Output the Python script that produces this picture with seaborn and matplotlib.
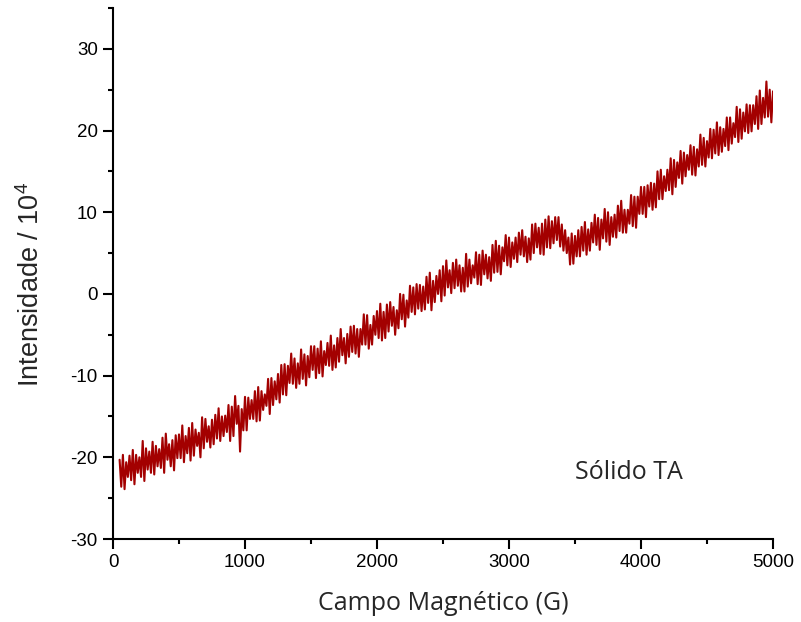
import numpy as np
import pandas as pd
import matplotlib
matplotlib.use("Agg")
import matplotlib.pyplot as plt
from matplotlib.ticker import MultipleLocator
import seaborn as sns

# --- datos leidos del espectro (intensidad / 10^4) ---
# borde superior del ruido: 50, 75, 100 ... 5000 G
campo_a = np.arange(50, 5001, 25)
intensidad_a = [
    -20.3, -19.7, -20.6, -19.8, -19.1, -19.7, -20.0, -18.0, -18.9, -19.3,
    -18.1, -18.6, -19.0, -17.6, -17.1, -18.4, -17.9, -17.3, -17.2, -16.1,
    -17.4, -16.4, -15.8, -16.6, -17.0, -15.1, -15.3, -16.2, -15.4, -14.8,
    -14.0, -15.0, -14.9, -13.6, -13.8, -12.5, -13.7, -14.1, -12.6, -12.7,
    -13.0, -11.9, -11.4, -11.9, -12.3, -10.4, -10.3, -10.7, -9.8, -8.7,
    -8.6, -8.8, -7.3, -7.9, -8.5, -6.8, -7.4, -7.6, -6.4, -6.4,
    -6.7, -5.8, -7.0, -6.0, -5.1, -6.3, -5.4, -4.3, -5.4, -4.9,
    -4.0, -3.9, -4.3, -4.3, -2.5, -2.6, -3.8, -2.7, -2.1, -1.2,
    -2.2, -1.3, -1.0, -1.6, -2.0, 0.0, -0.1, -0.8, 1.0, 0.8,
    1.2, 1.1, 0.9, 2.1, 2.6, 1.6, 2.2, 2.9, 3.4, 4.1,
    2.9, 3.8, 4.2, 3.5, 3.2, 4.9, 4.2, 3.5, 5.1, 4.8,
    5.3, 4.8, 4.5, 6.0, 6.5, 5.9, 5.7, 7.2, 6.9, 6.3,
    6.9, 7.5, 7.8, 7.0, 6.8, 8.5, 8.6, 8.1, 8.6, 9.1,
    9.5, 8.9, 9.4, 9.4, 8.5, 7.8, 6.9, 7.4, 7.1, 7.8,
    8.2, 8.8, 7.9, 8.7, 9.7, 9.3, 9.1, 10.4, 10.0, 9.4,
    9.7, 10.8, 11.4, 10.3, 10.3, 12.1, 11.9, 11.9, 13.1, 13.1,
    13.3, 13.6, 13.5, 15.0, 15.2, 14.4, 15.2, 16.6, 16.4, 16.1,
    17.5, 17.3, 17.0, 18.2, 18.0, 17.7, 19.5, 19.1, 18.7, 20.2,
    20.1, 21.0, 20.4, 20.2, 21.6, 21.6, 20.9, 22.9, 22.6, 22.2,
    23.2, 23.1, 23.1, 24.2, 24.9, 24.0, 26.0, 25.0, 24.8,
]

# borde inferior del ruido: 62.5, 87.5 ... 4987.5 G
campo_b = np.arange(62.5, 5000, 25)
intensidad_b = [
    -23.6, -23.9, -22.4, -22.8, -23.3, -21.9, -22.4, -22.9, -21.5, -21.9,
    -22.1, -21.1, -21.3, -21.9, -20.3, -21.1, -21.6, -20.1, -20.1, -20.6,
    -19.5, -20.4, -19.8, -18.6, -20.0, -18.9, -18.1, -18.8, -18.4, -17.7,
    -18.0, -17.4, -16.9, -18.0, -17.4, -15.9, -19.3, -16.7, -16.7, -15.3,
    -15.3, -15.6, -15.5, -14.2, -13.7, -14.7, -13.6, -12.9, -13.3, -12.3,
    -12.4, -10.9, -11.0, -11.5, -11.0, -10.4, -11.2, -10.2, -9.3, -10.3,
    -9.7, -10.1, -8.7, -8.8, -9.3, -9.0, -8.3, -7.5, -8.5, -7.7,
    -7.1, -7.3, -7.7, -6.2, -6.2, -6.7, -6.2, -5.0, -5.4, -5.7,
    -5.4, -4.6, -3.9, -5.0, -4.2, -3.1, -4.0, -2.9, -2.2, -2.5,
    -1.8, -2.1, -1.9, -1.1, -2.0, -1.0, 0.0, -0.9, -0.2, 0.8,
    0.1, 0.7, 1.0, 0.3, 0.3, 0.9, 1.3, 2.0, 1.2, 1.1,
    2.4, 1.9, 1.6, 2.6, 2.7, 2.4, 4.0, 3.5, 3.3, 4.3,
    3.9, 4.8, 4.6, 3.9, 4.2, 5.0, 5.7, 4.9, 4.8, 5.7,
    5.6, 6.2, 6.6, 5.8, 5.3, 5.0, 3.6, 3.7, 4.6, 4.6,
    5.3, 4.8, 5.3, 6.3, 6.0, 5.4, 6.8, 6.4, 6.0, 7.0,
    6.9, 7.7, 7.5, 7.5, 8.6, 8.3, 8.1, 9.8, 9.8, 9.4,
    10.7, 10.3, 10.6, 11.6, 11.6, 12.6, 12.7, 12.2, 13.1, 14.2,
    13.5, 14.4, 15.2, 14.6, 14.5, 15.6, 15.8, 15.6, 16.7, 16.6,
    17.2, 17.0, 17.4, 18.1, 17.6, 18.4, 19.2, 18.6, 19.0, 19.9,
    19.7, 19.9, 20.8, 20.2, 20.8, 21.6, 21.7, 21.0,
]

df = pd.concat([
    pd.DataFrame({"campo": campo_a, "intensidad": intensidad_a}),
    pd.DataFrame({"campo": campo_b, "intensidad": intensidad_b}),
]).sort_values("campo")

sns.set_style("ticks")
plt.rcParams["font.family"] = ["Liberation Sans", "DejaVu Sans"]
plt.rcParams["axes.unicode_minus"] = False
plt.rcParams["mathtext.fontset"] = "custom"
plt.rcParams["mathtext.rm"] = "Liberation Sans"
plt.rcParams["mathtext.it"] = "Liberation Sans"
plt.rcParams["mathtext.default"] = "regular"

fig = plt.figure(figsize=(8.01, 6.22), dpi=100)
ax = fig.add_axes([113 / 801, 83 / 622, 660 / 801, 531 / 622])

sns.lineplot(data=df, x="campo", y="intensidad", color="#A30000",
             linewidth=1.5, estimator=None, ax=ax)

ax.set_xlim(0, 5000)
ax.set_ylim(-30, 35)
ax.xaxis.set_major_locator(MultipleLocator(1000))
ax.xaxis.set_minor_locator(MultipleLocator(500))
ax.yaxis.set_major_locator(MultipleLocator(10))
ax.yaxis.set_minor_locator(MultipleLocator(5))

for lado in ["top", "right"]:
    ax.spines[lado].set_visible(False)
for lado in ["left", "bottom"]:
    ax.spines[lado].set_linewidth(1.5)
    ax.spines[lado].set_color("black")

ax.tick_params(which="major", direction="out", length=7, width=1.5,
               labelsize=13.5, colors="black", pad=4)
ax.tick_params(which="minor", direction="out", length=3.5, width=1.5,
               colors="black")

ax.set_xlabel("Campo Magnético (G)", family=["Open Sans", "DejaVu Sans"],
              fontsize=18, labelpad=14)
ax.set_ylabel("Intensidade / 10$^4$", fontsize=19.5)
ax.yaxis.set_label_coords(-0.103, 0.48)

ax.text(3500, -21.9, "Sólido TA", family=["Open Sans", "DejaVu Sans"],
        fontsize=18, va="center", ha="left")

fig.savefig("out.png", dpi=100)
